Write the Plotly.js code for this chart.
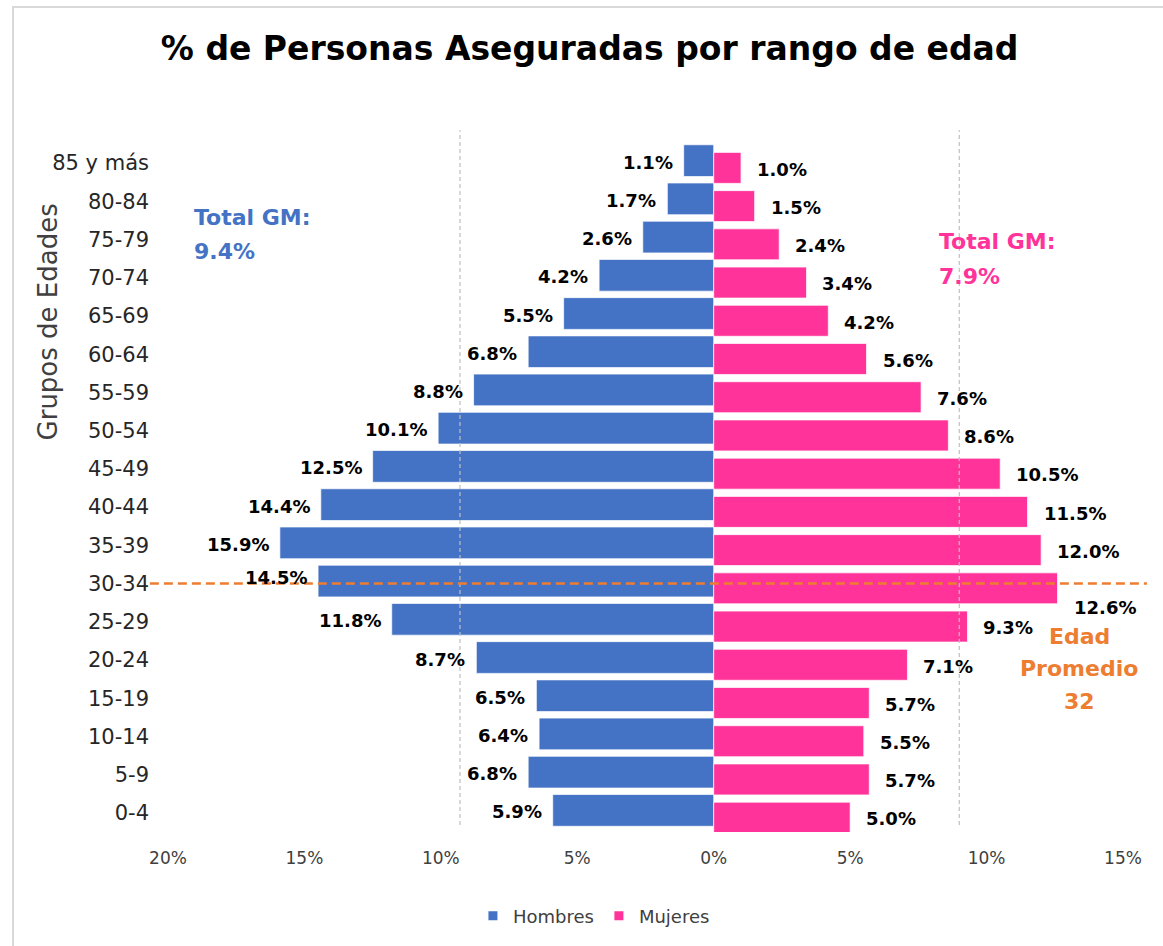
<!DOCTYPE html>
<html>
<head>
<meta charset="utf-8">
<script src="https://cdn.plot.ly/plotly-3.0.1.min.js"></script>
<style>
  html, body { margin: 0; padding: 0; background: #fff; }
  #chart { width: 1163px; height: 946px; }
  #frame { position: absolute; left: 12px; top: 6px; width: 1200px; height: 1000px;
           border-left: 2px solid #d9d9d9; border-top: 2px solid #d9d9d9; pointer-events: none; }
</style>
</head>
<body>
<div id="chart"></div>
<div id="frame"></div>
<script>
// ---- data (bottom to top) ----
const categories = ['0-4','5-9','10-14','15-19','20-24','25-29','30-34','35-39','40-44',
                    '45-49','50-54','55-59','60-64','65-69','70-74','75-79','80-84','85 y más'];
const hombres = [5.9, 6.8, 6.4, 6.5, 8.7, 11.8, 14.5, 15.9, 14.4, 12.5, 10.1, 8.8, 6.8, 5.5, 4.2, 2.6, 1.7, 1.1];
const mujeres = [5.0, 5.7, 5.5, 5.7, 7.1, 9.3, 12.6, 12.0, 11.5, 10.5, 8.6, 7.6, 5.6, 4.2, 3.4, 2.4, 1.5, 1.0];
const tickValues = [-20, -15, -10, -5, 0, 5, 10, 15];
const tickLabels = ['20%', '15%', '10%', '5%', '0%', '5%', '10%', '15%'];
const totalHombres = 'Total GM:';
const totalHombresVal = '9.4%';
const totalMujeres = 'Total GM:';
const totalMujeresVal = '7.9%';
const edadPromedio = ['Edad', 'Promedio', '32'];
const edadCategory = '30-34';

const BLUE = '#4472C4', PINK = '#FF3399', ORANGE = '#ED7D31';
const FONT = 'DejaVu Sans, Verdana, sans-serif';

const traces = [
  { type: 'bar', orientation: 'h', name: 'Hombres', y: categories, x: hombres.map(v => -v),
    offset: -0.35, width: 0.83, showlegend: false, hoverinfo: 'skip',
    marker: { color: BLUE, line: { color: 'rgba(255,255,255,0.7)', width: 1 } } },
  { type: 'bar', orientation: 'h', name: 'Mujeres', y: categories, x: mujeres,
    offset: -0.53, width: 0.81, showlegend: false, hoverinfo: 'skip',
    marker: { color: PINK, line: { color: 'rgba(255,255,255,0.7)', width: 1 } } },
  { type: 'scatter', mode: 'markers', name: 'Hombres', x: [null], y: [null],
    marker: { symbol: 'square', size: 9, color: BLUE } },
  { type: 'scatter', mode: 'markers', name: 'Mujeres', x: [null], y: [null],
    marker: { symbol: 'square', size: 9, color: PINK } }
];

const annotations = [];
const labelFont = { family: FONT, size: 18, color: '#000000' };
categories.forEach((c, i) => {
  annotations.push({ x: -hombres[i], y: c, xref: 'x', yref: 'y', text: '<b>' + hombres[i].toFixed(1) + '%</b>',
    showarrow: false, xanchor: 'right', yanchor: 'middle', xshift: -10,
    yshift: c === edadCategory ? 6 : 1, font: labelFont, borderpad: 0 });
  annotations.push({ x: mujeres[i], y: c, xref: 'x', yref: 'y', text: '<b>' + mujeres[i].toFixed(1) + '%</b>',
    showarrow: false, xanchor: 'left', yanchor: 'middle', xshift: 15,
    yshift: c === edadCategory ? -24 : -6, font: labelFont, borderpad: 0 });
});

const bigFont = (col) => ({ family: FONT, size: 22, color: col });
annotations.push(
  { x: -19.12, y: 15.57, text: '<b>' + totalHombres + '</b>', showarrow: false, xanchor: 'left', yanchor: 'middle', font: bigFont(BLUE) },
  { x: -19.12, y: 14.68, text: '<b>' + totalHombresVal + '</b>', showarrow: false, xanchor: 'left', yanchor: 'middle', font: bigFont(BLUE) },
  { x: 8.17, y: 14.94, text: '<b>' + totalMujeres + '</b>', showarrow: false, xanchor: 'left', yanchor: 'middle', font: bigFont(PINK) },
  { x: 8.17, y: 14.03, text: '<b>' + totalMujeresVal + '</b>', showarrow: false, xanchor: 'left', yanchor: 'middle', font: bigFont(PINK) },
  { x: 13.4, y: 4.62, text: '<b>' + edadPromedio[0] + '</b>', showarrow: false, xanchor: 'center', yanchor: 'middle', font: bigFont(ORANGE) },
  { x: 13.4, y: 3.78, text: '<b>' + edadPromedio[1] + '</b>', showarrow: false, xanchor: 'center', yanchor: 'middle', font: bigFont(ORANGE) },
  { x: 13.4, y: 2.92, text: '<b>' + edadPromedio[2] + '</b>', showarrow: false, xanchor: 'center', yanchor: 'middle', font: bigFont(ORANGE) },
  { xref: 'paper', yref: 'paper', x: -0.1257, y: 0.742, text: 'Grupos de Edades', showarrow: false, textangle: -90,
    xanchor: 'center', yanchor: 'middle', font: { family: FONT, size: 26, color: '#404040' } }
);

// y position (paper) of the average-age category line
const edadIdx = categories.indexOf(edadCategory);
const edadPaperY = (edadIdx + 0.5) / categories.length;

const shapes = [
  { type: 'line', xref: 'x', yref: 'paper', x0: -9.3, x1: -9.3, y0: 0.01, y1: 1.02,
    line: { color: '#bfbfbf', width: 1.2, dash: '4px,3px' } },
  { type: 'line', xref: 'x', yref: 'paper', x0: 9.0, x1: 9.0, y0: 0.01, y1: 1.02,
    line: { color: '#bfbfbf', width: 1.2, dash: '4px,3px' } },
  { type: 'line', xref: 'paper', yref: 'paper', x0: -0.019, x1: 1.025, y0: edadPaperY, y1: edadPaperY,
    line: { color: ORANGE, width: 2.5, dash: '9px,5px' } }
];

const layout = {
  width: 1163, height: 946,
  margin: { l: 168, r: 40, t: 144, b: 112 },
  paper_bgcolor: '#ffffff', plot_bgcolor: '#ffffff',
  font: { family: FONT, color: '#404040' },
  title: { text: '<b>% de Personas Aseguradas por rango de edad</b>', x: 0.507, xref: 'container', xanchor: 'center',
           y: 0.949, yanchor: 'middle', font: { family: FONT, size: 33, color: '#000000' } },
  barmode: 'overlay',
  xaxis: { range: [-20, 15], tickvals: tickValues, ticktext: tickLabels, showgrid: false, zeroline: false,
           showline: false, ticks: '', ticklabelstandoff: 14, fixedrange: true,
           tickfont: { family: FONT, size: 17, color: '#404040' } },
  yaxis: { type: 'category', categoryorder: 'array', categoryarray: categories, range: [-0.5, 17.5],
           showgrid: false, zeroline: false, showline: false, ticks: '', ticklabelstandoff: 18, fixedrange: true,
           tickfont: { family: FONT, size: 21, color: '#262626' } },
  showlegend: true,
  legend: { orientation: 'h', x: 0.446, xanchor: 'center', y: -0.122, yanchor: 'middle',
            font: { family: FONT, size: 18, color: '#404040' }, itemwidth: 30, tracegroupgap: 0 },
  annotations: annotations,
  shapes: shapes
};

Plotly.newPlot('chart', traces, layout, { displayModeBar: false, staticPlot: true });
</script>
</body>
</html>
